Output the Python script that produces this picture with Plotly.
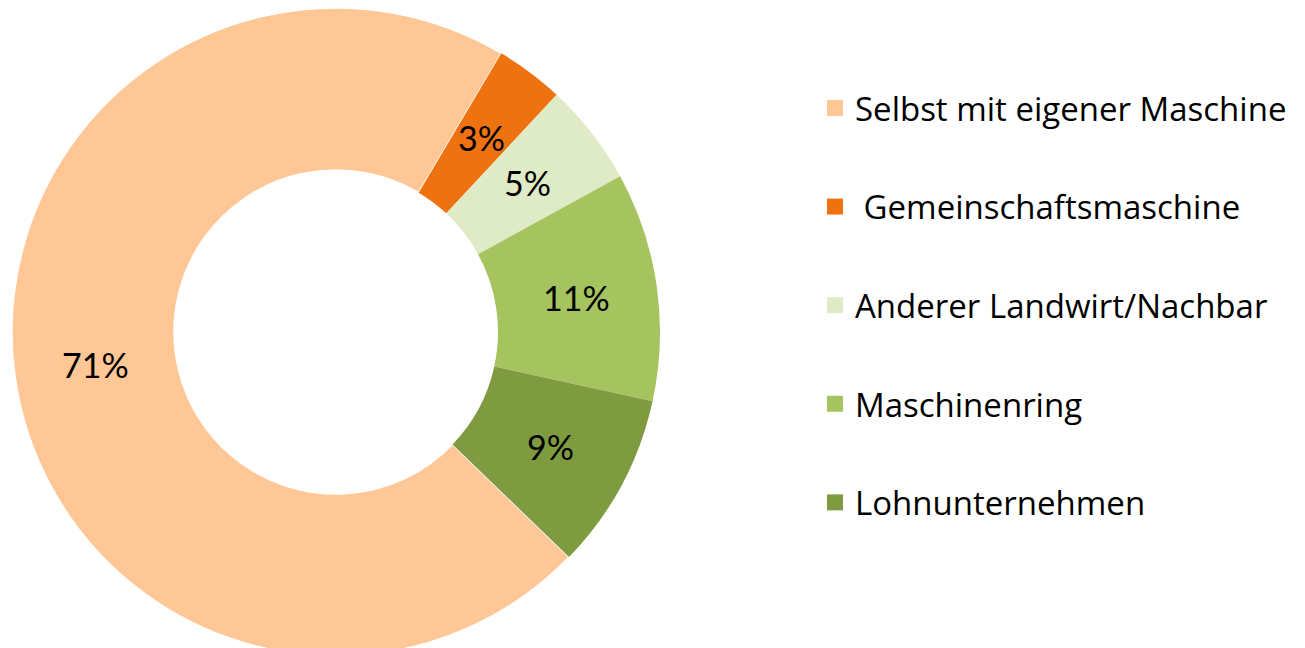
import math
import plotly.graph_objects as go

categories = ["Selbst mit eigener Maschine", " Gemeinschaftsmaschine", "Anderer Landwirt/Nachbar",
              "Maschinenring", "Lohnunternehmen"]
shares = [71.3, 3.4, 5.1, 11.4, 8.8]
colors = ["#FFC696", "#EE7310", "#DEEBC6", "#A5C35F", "#7E9B40"]
border_widths = [1.5, 0, 0, 0, 0]

W, H = 1305, 648
HOLE = 0.5
ROTATION = 134
LABEL_FONT = "Lato"
LEGEND_FONT = "Open Sans"

# pie domain (figure pixels)
dom_x = (4, 652)

fig = go.Figure()
fig.add_trace(go.Pie(
    labels=categories, values=shares, hole=HOLE, sort=False,
    direction="clockwise", rotation=ROTATION,
    marker=dict(colors=colors, line=dict(color="white", width=border_widths)),
    textinfo="none",
    domain=dict(x=[dom_x[0] / W, dom_x[1] / W], y=[0, 1]),
    showlegend=False,
))

# percentage labels at the middle of each ring segment (derived from the data)
cx = (dom_x[0] + dom_x[1]) / 2
cy = H / 2
R = min(dom_x[1] - dom_x[0], H) / 2
rm = R * (1 + HOLE) / 2
total = sum(shares)
start = ROTATION
for v in shares:
    span = v / total * 360
    mid = math.radians(start + span / 2)
    px = cx + rm * math.sin(mid)
    py = cy - rm * math.cos(mid)
    fig.add_annotation(x=px / W, y=1 - py / H, xref="paper", yref="paper",
                       xanchor="center", yanchor="middle",
                       text=f"{round(v / total * 100)}%", showarrow=False,
                       font=dict(family=LABEL_FONT, size=34, color="black"))
    start += span

for i, (cat, col) in enumerate(zip(categories, colors)):
    fig.add_trace(go.Scatter(
        x=[None], y=[None], mode="markers", name=cat,
        marker=dict(symbol="square", size=18, color=col),
        legendgroup=f"g{i}", showlegend=True,
    ))

fig.update_layout(
    width=W, height=H,
    margin=dict(l=0, r=0, t=0, b=0),
    paper_bgcolor="white", plot_bgcolor="white",
    xaxis=dict(visible=False), yaxis=dict(visible=False),
    legend=dict(x=807 / W, xanchor="left", y=1 - 72 / H, yanchor="top",
                font=dict(family=LEGEND_FONT, size=33, color="black"),
                tracegroupgap=52.7, itemsizing="trace",
                bgcolor="rgba(0,0,0,0)"),
)

fig.write_html("out.html")
